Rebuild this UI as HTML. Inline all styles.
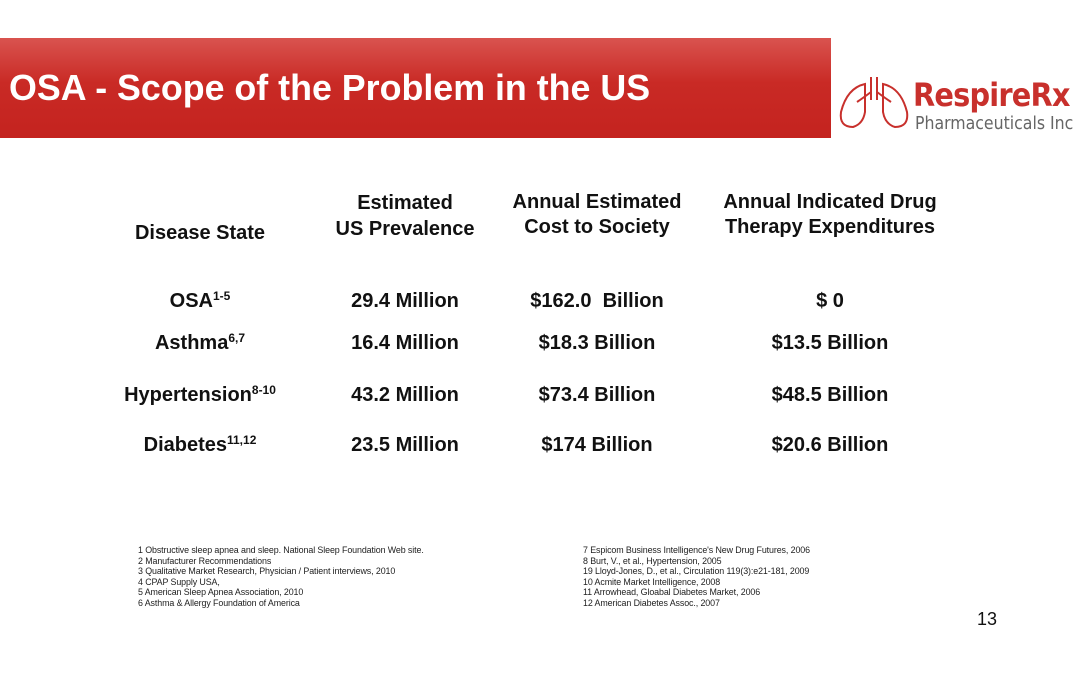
<!DOCTYPE html>
<html><head><style>
body{margin:0;width:1082px;height:685px;background:#fff;position:relative;font-family:"Liberation Sans",Arial,sans-serif;overflow:hidden}
.banner{position:absolute;left:0;top:38px;width:831px;height:100px;background:linear-gradient(#d9534f,#c92a25 45%,#c4231f)}
.title{position:absolute;left:9px;top:68px;color:#fff;font-weight:bold;font-size:35.8px;white-space:nowrap}
.t{position:absolute;font-weight:bold;font-size:20px;color:#111;text-align:center;transform:translateX(-50%);white-space:nowrap;line-height:26px}
sup{font-size:12px;vertical-align:7px;line-height:0}
.fn{position:absolute;font-size:8.9px;color:#222;line-height:10.5px;white-space:nowrap;letter-spacing:-0.1px}
</style></head><body>
<div class="banner"></div>
<div class="title">OSA - Scope of the Problem in the US</div>
<svg style="position:absolute;left:835px;top:72px" width="80" height="62" viewBox="0 0 80 62">
<g fill="none" stroke="#c8302c" stroke-width="2">
<path d="M36 5 V28 M42 5 V28 M36 20 Q28 26 22 30 M42 20 Q50 26 56 30"/>
<path d="M30 12 Q12 16 6 40 Q4 55 18 55 Q28 52 30 40 Z"/>
<path d="M48 12 Q66 16 72 40 Q74 55 60 55 Q50 52 48 40 Z"/>
</g></svg>
<div style="position:absolute;left:913px;top:76px;color:#c8302c;font-weight:bold;font-size:32px;letter-spacing:-0.8px;white-space:nowrap;font-family:'DejaVu Sans Condensed','DejaVu Sans',sans-serif">RespireRx</div>
<div style="position:absolute;left:915px;top:114px;color:#666;font-size:17.5px;white-space:nowrap;font-family:'DejaVu Sans Condensed','DejaVu Sans',sans-serif">Pharmaceuticals Inc</div>

<div class="t" style="left:200px;top:220px">Disease State</div>
<div class="t" style="left:405px;top:190px">Estimated<br>US Prevalence</div>
<div class="t" style="left:597px;top:190px;line-height:25px">Annual Estimated<br>Cost to Society</div>
<div class="t" style="left:830px;top:190px;line-height:25px">Annual Indicated Drug<br>Therapy Expenditures</div>

<div class="t" style="left:200px;top:288px">OSA<sup>1-5</sup></div>
<div class="t" style="left:405px;top:288px">29.4 Million</div>
<div class="t" style="left:597px;top:288px">$162.0&nbsp; Billion</div>
<div class="t" style="left:830px;top:288px">$ 0</div>

<div class="t" style="left:200px;top:330px">Asthma<sup>6,7</sup></div>
<div class="t" style="left:405px;top:330px">16.4 Million</div>
<div class="t" style="left:597px;top:330px">$18.3 Billion</div>
<div class="t" style="left:830px;top:330px">$13.5 Billion</div>

<div class="t" style="left:200px;top:382px">Hypertension<sup>8-10</sup></div>
<div class="t" style="left:405px;top:382px">43.2 Million</div>
<div class="t" style="left:597px;top:382px">$73.4 Billion</div>
<div class="t" style="left:830px;top:382px">$48.5 Billion</div>

<div class="t" style="left:200px;top:432px">Diabetes<sup>11,12</sup></div>
<div class="t" style="left:405px;top:432px">23.5 Million</div>
<div class="t" style="left:597px;top:432px">$174 Billion</div>
<div class="t" style="left:830px;top:432px">$20.6 Billion</div>

<div class="fn" style="left:138px;top:545px">1 Obstructive sleep apnea and sleep. National Sleep Foundation Web site.<br>2 Manufacturer Recommendations<br>3 Qualitative Market Research, Physician / Patient interviews, 2010<br>4 CPAP Supply USA,<br>5 American Sleep Apnea Association, 2010<br>6 Asthma &amp; Allergy Foundation of America</div>
<div class="fn" style="left:583px;top:545px">7 Espicom Business Intelligence's New Drug Futures, 2006<br>8 Burt, V., et al., Hypertension, 2005<br>19 Lloyd-Jones, D., et al., Circulation 119(3):e21-181, 2009<br>10 Acmite Market Intelligence, 2008<br>11 Arrowhead, Gloabal Diabetes Market, 2006<br>12 American Diabetes Assoc., 2007</div>
<div style="position:absolute;left:977px;top:609px;font-size:18px;color:#111">13</div>
</body></html>
